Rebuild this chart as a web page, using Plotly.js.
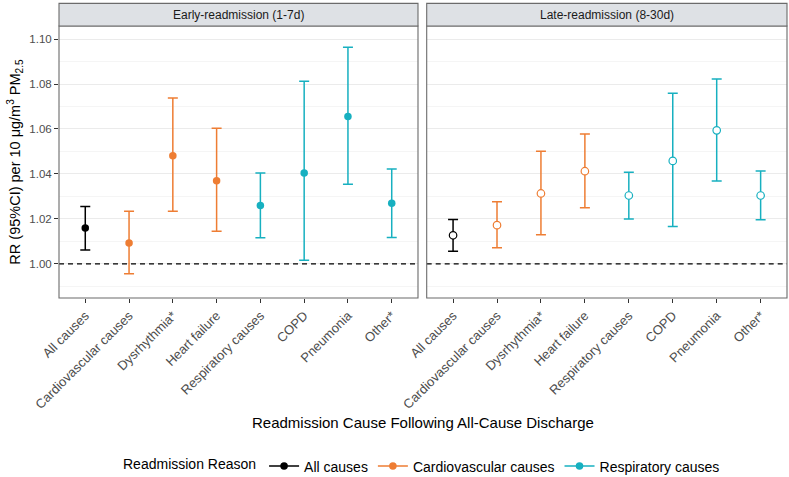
<!DOCTYPE html>
<html>
<head>
<meta charset="utf-8">
<script src="https://cdn.plot.ly/plotly-3.0.1.min.js"></script>
<style>html,body{margin:0;padding:0;background:#fff;}#chart{width:789px;height:477px;}</style>
</head>
<body>
<div id="chart"></div>
<script>
// ---- data ----
const categories = ["All causes", "Cardiovascular causes", "Dysrhythmia*", "Heart failure",
                    "Respiratory causes", "COPD", "Pneumonia", "Other*"];
const groups = ["All causes", "Cardiovascular causes", "Cardiovascular causes", "Cardiovascular causes",
                "Respiratory causes", "Respiratory causes", "Respiratory causes", "Respiratory causes"];
const groupNames = ["All causes", "Cardiovascular causes", "Respiratory causes"];
const groupColors = ["#000000", "#EE7D33", "#17B0C0"];
const panelTitles = ["Early-readmission (1-7d)", "Late-readmission (8-30d)"];

const earlyRR = [1.0159, 1.0093, 1.0481, 1.0370, 1.0259, 1.0404, 1.0655, 1.0270];
const earlyLo = [1.0062, 0.9956, 1.0234, 1.0145, 1.0116, 1.0016, 1.0354, 1.0117];
const earlyHi = [1.0255, 1.0234, 1.0738, 1.0603, 1.0404, 1.0812, 1.0964, 1.0422];

const lateRR = [1.0127, 1.0172, 1.0313, 1.0412, 1.0304, 1.0458, 1.0594, 1.0304];
const lateLo = [1.0056, 1.0071, 1.0129, 1.0249, 1.0199, 1.0166, 1.0369, 1.0196];
const lateHi = [1.0197, 1.0276, 1.0501, 1.0578, 1.0407, 1.0759, 1.0822, 1.0413];

const yTicks = [1.00, 1.02, 1.04, 1.06, 1.08, 1.10];

// ---- build traces ----
const FONT = "Liberation Sans, Arial, Helvetica, sans-serif";
const traces = [];
const panels = [
  {rr: earlyRR, lo: earlyLo, hi: earlyHi, xa: "x", ya: "y", open: false},
  {rr: lateRR, lo: lateLo, hi: lateHi, xa: "x2", ya: "y2", open: true}
];
panels.forEach(p => {
  groupNames.forEach((g, gi) => {
    const idx = categories.map((c, i) => i).filter(i => groups[i] === g);
    traces.push({
      type: "scatter", mode: "markers",
      x: idx.map(i => categories[i]),
      y: idx.map(i => p.rr[i]),
      xaxis: p.xa, yaxis: p.ya,
      showlegend: false, hoverinfo: "skip",
      error_y: {
        type: "data", symmetric: false,
        array: idx.map(i => p.hi[i] - p.rr[i]),
        arrayminus: idx.map(i => p.rr[i] - p.lo[i]),
        color: groupColors[gi], thickness: 1.5, width: 5
      },
      marker: p.open
        ? {size: 7.5, color: "#ffffff", line: {color: groupColors[gi], width: 1.2}}
        : {size: 7.5, color: groupColors[gi], line: {width: 0}}
    });
  });
});
// legend keys (line + point like the original)
groupNames.forEach((g, gi) => {
  traces.push({
    type: "scatter", mode: "lines+markers", name: g,
    x: [null], y: [null], xaxis: "x", yaxis: "y",
    line: {color: groupColors[gi], width: 1.5},
    marker: {size: 7.5, color: groupColors[gi]},
    showlegend: true, hoverinfo: "skip"
  });
});

// ---- layout ----
const W = 789, H = 477;
const L = 59.3, R = 786.7, T = 26, B = 298.3;
const plotW = R - L, plotH = B - T;
const gapL = 418, gapR = 426.7;
const d1 = [0, (gapL - L) / plotW];
const d2 = [(gapR - L) / plotW, 1];
const yRange = [0.9848, 1.1058];
const stripTop = 1 + (T - 3.3) / plotH;

function xAxis(domain, anchor) {
  return {
    domain: domain, anchor: anchor, type: "category",
    categoryorder: "array", categoryarray: categories,
    range: [-0.6, categories.length - 0.4],
    showgrid: false, zeroline: false, showline: false, automargin: false,
    ticks: "outside", ticklen: 4, tickwidth: 1, tickcolor: "#333333",
    tickangle: -45, tickfont: {family: FONT, size: 13, color: "#4D4D4D"}
  };
}
function yAxis(anchor, labels) {
  return {
    anchor: anchor, range: yRange, tickvals: yTicks, tickformat: ".2f", automargin: false,
    showticklabels: labels, ticks: labels ? "outside" : "", ticklen: 4, tickwidth: 1, tickcolor: "#333333",
    tickfont: {family: FONT, size: 11.5, color: "#4D4D4D"},
    showgrid: true, gridcolor: "#EBEBEB", gridwidth: 1,
    minor: {dtick: 0.01, tick0: 1.0, showgrid: true, gridcolor: "#F3F3F3", gridwidth: 0.8, ticks: ""},
    zeroline: false, showline: false
  };
}

const shapes = [];
const annotations = [];
[["x", "y"], ["x2", "y2"]].forEach((ax, k) => {
  shapes.push({type: "line", xref: ax[0] + " domain", yref: ax[1], x0: 0, x1: 1, y0: 1, y1: 1,
               line: {color: "#000000", width: 1.3, dash: "5px,4px"}, layer: "above"});
  shapes.push({type: "rect", xref: ax[0] + " domain", yref: ax[1] + " domain", x0: 0, x1: 1, y0: 0, y1: 1,
               line: {color: "#6B6B6B", width: 1.1}, fillcolor: "rgba(0,0,0,0)", layer: "above"});
  shapes.push({type: "rect", xref: ax[0] + " domain", yref: ax[1] + " domain", x0: 0, x1: 1, y0: 1, y1: stripTop,
               line: {color: "#6B6B6B", width: 1.1}, fillcolor: "#DEE1E5", layer: "above"});
  annotations.push({xref: ax[0] + " domain", yref: ax[1] + " domain", x: 0.5, y: (1 + stripTop) / 2,
                    text: panelTitles[k], showarrow: false, xanchor: "center", yanchor: "middle",
                    font: {family: FONT, size: 12, color: "#1A1A1A"}});
});
annotations.push({xref: "paper", yref: "paper", x: 0.5, y: (B - 423) / plotH,
                  text: "Readmission Cause Following All-Cause Discharge", showarrow: false,
                  xanchor: "center", yanchor: "middle", font: {family: FONT, size: 15, color: "#000000"}});
annotations.push({xref: "paper", yref: "paper", x: (15 - L) / plotW, y: 0.5, textangle: -90,
                  text: "RR (95%CI) per 10 μg/m<sup>3</sup> PM<sub>2.5</sub>", showarrow: false,
                  xanchor: "center", yanchor: "middle", font: {family: FONT, size: 14.5, color: "#000000"}});

const layout = {
  width: W, height: H,
  margin: {l: L, r: W - R, t: T, b: H - B, pad: 0, autoexpand: false},
  paper_bgcolor: "#ffffff", plot_bgcolor: "#ffffff",
  font: {family: FONT, color: "#000000"},
  xaxis: xAxis(d1, "y"), xaxis2: xAxis(d2, "y2"),
  yaxis: yAxis("x", true), yaxis2: Object.assign(yAxis("x2", false), {matches: "y"}),
  shapes: shapes, annotations: annotations,
  showlegend: true,
  legend: {
    orientation: "h", x: 0.5, xanchor: "center", y: (B - 467) / plotH, yanchor: "middle",
    title: {text: "Readmission Reason", font: {family: FONT, size: 14, color: "#000000"}, side: "left"},
    font: {family: FONT, size: 14, color: "#000000"},
    itemwidth: 30, tracegroupgap: 0, bgcolor: "rgba(0,0,0,0)"
  }
};

Plotly.newPlot("chart", traces, layout, {displayModeBar: false, staticPlot: true});
</script>
</body>
</html>
